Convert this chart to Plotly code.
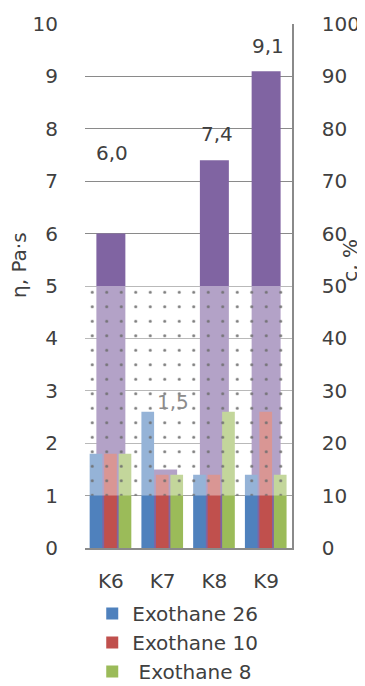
import plotly.graph_objects as go

# ---- data ----
categories = ["K6", "K7", "K8", "K9"]
viscosity = [6.0, 1.5, 7.4, 9.1]          # η, Pa·s (left axis)
exothane_26 = [18, 26, 14, 14]            # c, % (right axis)
exothane_10 = [18, 14, 14, 26]
exothane_8 = [18, 14, 26, 14]
band_low, band_high = 10, 50              # shaded c, % band
left_ticks = list(range(0, 11))
right_ticks = list(range(0, 101, 10))

FONT = "DejaVu Sans"
TXT = "#404040"
GRID = "#8a8a8a"

fig = go.Figure()

fig.add_trace(go.Bar(
    x=categories, y=viscosity, yaxis="y", showlegend=False,
    marker=dict(color="#8064A2", line=dict(width=0)),
    width=0.56, offset=-0.28, hoverinfo="skip"))

series = [("Exothane 26", exothane_26, "#4F81BD", -0.41),
          ("Exothane 10", exothane_10, "#C0504D", -0.13),
          ("\u00a0Exothane 8", exothane_8, "#9BBB59", 0.15)]
for name, vals, col, off in series:
    fig.add_trace(go.Bar(
        x=categories, y=vals, yaxis="y2", name=name,
        marker=dict(color=col, line=dict(width=0)),
        width=0.245, offset=off))

# shaded band (semi-transparent white with dots)
fig.add_trace(go.Bar(
    x=[categories[0]], y=[band_high - band_low], base=[band_low], yaxis="y2",
    width=[len(categories)], offset=-0.5, showlegend=False, hoverinfo="skip",
    marker=dict(color="rgba(255,255,255,0.4)", line=dict(width=0),
                pattern=dict(shape=".", size=14.5, solidity=0.035,
                             fgcolor="#6e6e6e", bgcolor="rgba(255,255,255,0.4)",
                             fgopacity=0.9, fillmode="replace"))))

# value labels
lifts = [81, 67, 26, 25]
xshifts = [1, 10, 3, 2]
annotations = []
for c, v, ly, sx in zip(categories, viscosity, lifts, xshifts):
    inside = band_low / 10 <= v + ly / 52.4 <= band_high / 10
    annotations.append(dict(
        x=c, y=v, xref="x", yref="y", text=f"{v:.1f}".replace(".", ","),
        showarrow=False, yshift=ly, xshift=sx, yanchor="middle",
        font=dict(family=FONT, size=20, color="#8c8c8c" if inside else TXT)))

# axis titles
annotations.append(dict(x=-0.319, y=0.54, xref="paper", yref="paper",
                        text="η, Pa·s", textangle=-90, showarrow=False,
                        xanchor="center", yanchor="middle",
                        font=dict(family=FONT, size=20, color=TXT)))
annotations.append(dict(x=1.28, y=0.55, xref="paper", yref="paper",
                        text="c, %", textangle=-90, showarrow=False,
                        xanchor="center", yanchor="middle",
                        font=dict(family=FONT, size=20, color=TXT)))

fig.update_layout(
    width=357, height=678,
    margin=dict(l=77, r=73, t=16, b=138, autoexpand=False),
    paper_bgcolor="white", plot_bgcolor="white",
    barmode="overlay",
    font=dict(family=FONT, size=20, color=TXT),
    xaxis=dict(showgrid=False, showline=True, linecolor=GRID, linewidth=1.5,
               ticks="outside", ticklen=14, tickcolor="rgba(0,0,0,0)",
               tickfont=dict(family=FONT, size=20, color=TXT),
               range=[-0.5, 3.5], automargin=False),
    yaxis=dict(range=[0, 10], tickvals=left_ticks, showgrid=True,
               gridcolor=GRID, gridwidth=1.3, zeroline=False, showline=False,
               ticks="outside", ticklen=22, tickcolor="rgba(0,0,0,0)",
               tickfont=dict(family=FONT, size=20, color=TXT), automargin=False),
    yaxis2=dict(range=[0, 100], tickvals=right_ticks, overlaying="y",
                side="right", showgrid=False, zeroline=False,
                showline=True, linecolor=GRID, linewidth=1.5,
                ticks="outside", ticklen=24, tickcolor="rgba(0,0,0,0)",
                tickfont=dict(family=FONT, size=20, color=TXT), automargin=False),
    legend=dict(orientation="v", x=0.035, y=-0.088, xanchor="left", yanchor="top",
                font=dict(family=FONT, size=20, color=TXT),
                bgcolor="rgba(0,0,0,0)", tracegroupgap=0, itemwidth=30),
    annotations=annotations,
    showlegend=True,
)

fig.write_html("out.html")
